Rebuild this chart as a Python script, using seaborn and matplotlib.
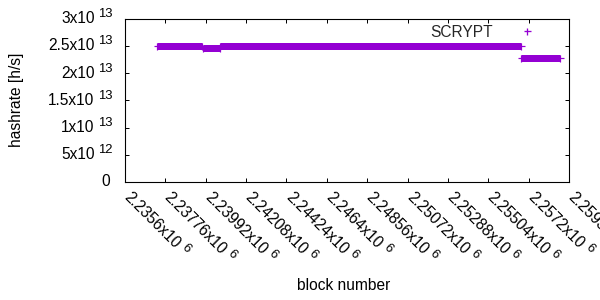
import numpy as np
import pandas as pd
import matplotlib
matplotlib.use("Agg")
import matplotlib.pyplot as plt
from matplotlib.lines import Line2D
from matplotlib.font_manager import FontProperties
import seaborn as sns

# ---- data ----
seg_start = [2237300, 2239760, 2240690, 2256800]
seg_end = [2239730, 2240660, 2256770, 2258880]
seg_hashrate = [2.505e13, 2.458e13, 2.505e13, 2.273e13]
series_name = "SCRYPT"

x_ticks = [2235600, 2237760, 2239920, 2242080, 2244240, 2246400,
           2248560, 2250720, 2252880, 2255040, 2257200, 2259360]
y_ticks = [0, 5e12, 1e13, 1.5e13, 2e13, 2.5e13, 3e13]

# ---- styling ----
sns.set_theme(style="white")
plt.rcParams['font.family'] = ['Liberation Sans', 'DejaVu Sans']
DPI = 100
PX = 72.0 / DPI          # points per pixel
FS = 11.2
FS_EXP = 9.4
COLOR = "#9400d3"

fig = plt.figure(figsize=(6, 3), dpi=DPI)
ax = fig.add_axes([125 / 600, 1 - 182 / 300, 444 / 600, 163.2 / 300])

rows = []
for i, (s, e, h) in enumerate(zip(seg_start, seg_end, seg_hashrate)):
    rows.append({"block": s, "hashrate": h, "seg": i})
    rows.append({"block": e, "hashrate": h, "seg": i})
df = pd.DataFrame(rows)

sns.lineplot(data=df, x="block", y="hashrate", units="seg", estimator=None,
             color=COLOR, lw=7 * PX, solid_capstyle="butt", ax=ax, legend=False)
sns.scatterplot(data=df, x="block", y="hashrate", marker="+", s=(7 * PX) ** 2,
                color=COLOR, linewidth=1.2 * PX, ax=ax, legend=False, zorder=3)

ax.set_xlim(x_ticks[0], x_ticks[-1])
ax.set_ylim(y_ticks[0], y_ticks[-1])
ax.set_xticks(x_ticks)
ax.set_yticks(y_ticks)
ax.tick_params(direction="in", length=4 * PX, width=1 * PX, colors="black",
               top=True, right=True, bottom=True, left=True,
               labelbottom=False, labelleft=False)
for sp in ax.spines.values():
    sp.set_color("black")
    sp.set_linewidth(1.1 * PX)
ax.set_xlabel("")
ax.set_ylabel("")

renderer = fig.canvas.get_renderer()
prop = FontProperties(family=['Liberation Sans', 'DejaVu Sans'], size=FS)

def px_width(s):
    w, h, d = renderer.get_text_width_height_descent(s, prop, ismath=False)
    return w

# y tick labels: mantissa x10 ^exp
for v in y_ticks:
    if v == 0:
        ax.annotate("0", xy=(0, v), xycoords=("axes fraction", "data"),
                    xytext=(-15, 0), textcoords="offset pixels",
                    ha="right", va="center", fontsize=FS, color="black")
        continue
    e = int(np.floor(np.log10(v)))
    m = v / 10 ** e
    ax.annotate(f"{m:g}x10", xy=(0, v), xycoords=("axes fraction", "data"),
                xytext=(-30.5, 0), textcoords="offset pixels",
                ha="right", va="center", fontsize=FS, color="black")
    ax.annotate(f"{e}", xy=(0, v), xycoords=("axes fraction", "data"),
                xytext=(-27, 4.5), textcoords="offset pixels",
                ha="left", va="center", fontsize=FS_EXP, color="black")

# x tick labels rotated -45 with exponent
ang = np.deg2rad(-45)
along = np.array([np.cos(ang), np.sin(ang)])
up = np.array([-np.sin(ang), np.cos(ang)])
base_off = np.array([1.5, -13.0])
for v in x_ticks:
    e = int(np.floor(np.log10(v)))
    m = v / 10 ** e
    base = f"{m:g}x10"
    ax.annotate(base, xy=(v, 0), xycoords=("data", "axes fraction"),
                xytext=tuple(base_off), textcoords="offset pixels",
                ha="left", va="center", rotation=-45, rotation_mode="anchor",
                fontsize=FS, color="black", annotation_clip=False)
    w = px_width(base)
    off = base_off + along * (w + 4) + up * 4.5
    ax.annotate(f"{e}", xy=(v, 0), xycoords=("data", "axes fraction"),
                xytext=tuple(off), textcoords="offset pixels",
                ha="left", va="center", rotation=-45, rotation_mode="anchor",
                fontsize=FS_EXP, color="black", annotation_clip=False)

# axis titles
fig.text(17 / 600, 1 - 100 / 300, "hashrate [h/s]", rotation=90,
         ha="center", va="center", fontsize=FS, color="black")
fig.text(344 / 600, 1 - 285 / 300, "block number",
         ha="center", va="center", fontsize=FS, color="black")

# legend
handle = Line2D([], [], marker="+", ls="none", color=COLOR,
                markersize=7 * PX, markeredgewidth=1.3 * PX)
ax.legend(handles=[handle], labels=[series_name], markerfirst=False,
          frameon=False, loc="center right",
          bbox_to_anchor=((542.5 - 125) / 444, (182 - 32.3) / 163.2),
          borderpad=0, borderaxespad=0, handlelength=2, handletextpad=1.19,
          fontsize=FS)

fig.savefig("out.png", dpi=DPI, facecolor="white")
